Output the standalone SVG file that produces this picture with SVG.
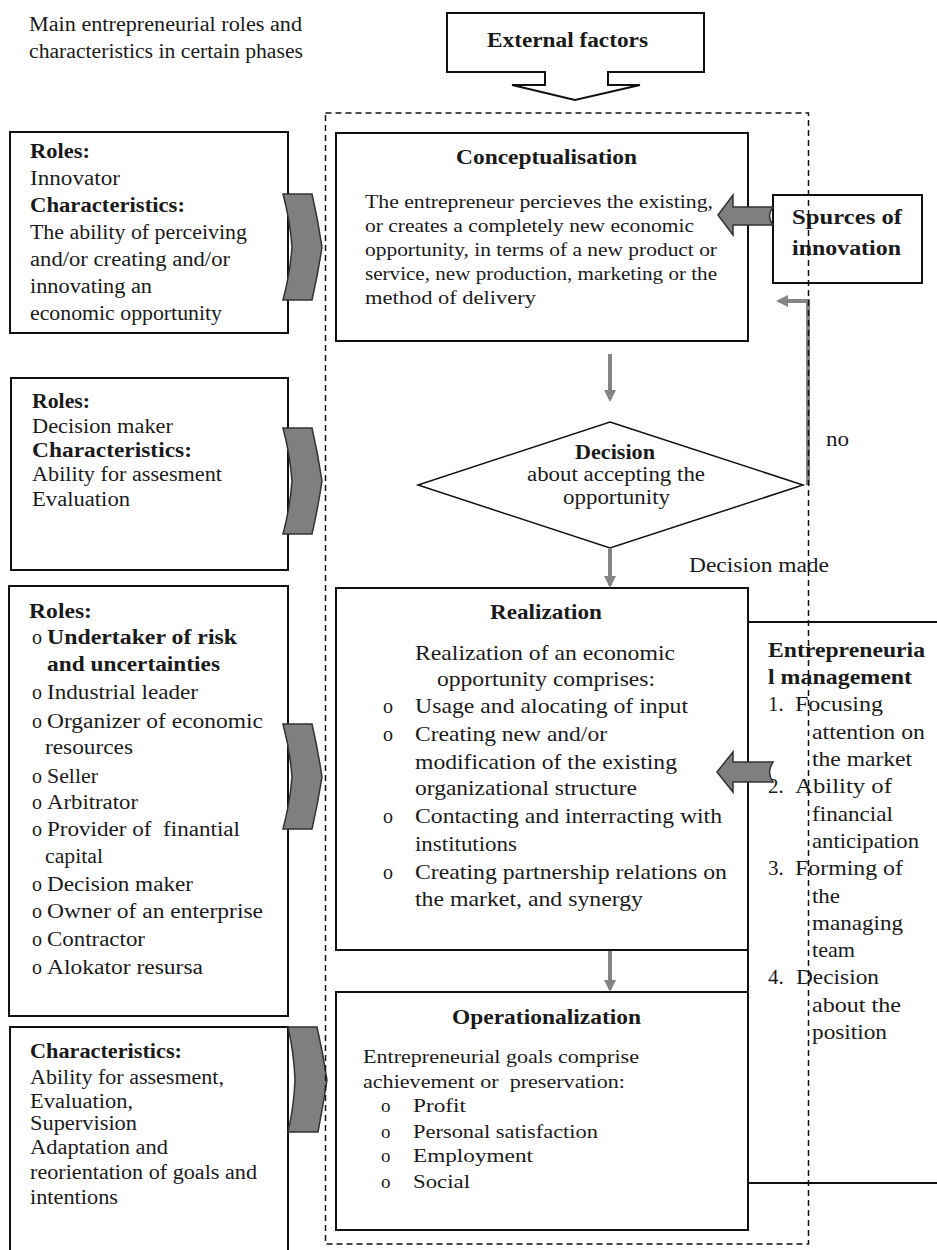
<svg xmlns="http://www.w3.org/2000/svg" width="937" height="1250" viewBox="0 0 937 1250">
<style>
text{font-family:"Liberation Serif","Times New Roman",serif;fill:#1a1a1a;font-size:20px}
.b{font-weight:bold}
.s19{font-size:19px}
.s21{font-size:21px}
.box{fill:#fff;stroke:#111;stroke-width:2}
.chev{fill:#7f7f7f;stroke:#333;stroke-width:1.5}
.blk{fill:#7f7f7f;stroke:#333;stroke-width:1.5}
.ga{stroke:#858585;stroke-width:4;fill:none}
.frame{fill:none;stroke:#111;stroke-width:1.5;stroke-dasharray:6 4}
.pre{white-space:pre}
</style>
<defs>
<marker id="gh" viewBox="0 0 12 12" refX="9" refY="6" markerWidth="12" markerHeight="12" markerUnits="userSpaceOnUse" orient="auto">
<path d="M0,0 L12,6 L0,12 Z" fill="#858585"/>
</marker>
</defs>
<rect width="937" height="1250" fill="#fff"/>

<g id="title">
<text x="29" y="31" textLength="273" lengthAdjust="spacingAndGlyphs">Main entrepreneurial roles and</text>
<text x="29" y="58" textLength="274" lengthAdjust="spacingAndGlyphs">characteristics in certain phases</text>
</g>

<g id="external-factors">
<path class="box" stroke-width="1.5" d="M447,13 H704 V72 H608 V85 H640 L575,100 L512,85 H545 V72 H447 Z"/>
<text class="b" x="487" y="47" textLength="161" lengthAdjust="spacingAndGlyphs">External factors</text>
</g>

<g id="roles-innovator">
<rect class="box" x="10" y="132" width="278" height="201"/>
<text class="b" x="30" y="158" textLength="60" lengthAdjust="spacingAndGlyphs">Roles:</text>
<text x="30" y="185" textLength="90" lengthAdjust="spacingAndGlyphs">Innovator</text>
<text class="b" x="30" y="212" textLength="155" lengthAdjust="spacingAndGlyphs">Characteristics:</text>
<text x="30" y="239" textLength="217" lengthAdjust="spacingAndGlyphs">The ability of perceiving</text>
<text x="30" y="266" textLength="200" lengthAdjust="spacingAndGlyphs">and/or creating and/or</text>
<text x="30" y="293" textLength="122" lengthAdjust="spacingAndGlyphs">innovating an</text>
<text x="30" y="320" textLength="192" lengthAdjust="spacingAndGlyphs">economic opportunity</text>
<path class="chev" d="M283,194 L312,194 Q318,220 322,247 Q318,274 312,300 L283,300 Q290,274 292,247 Q290,220 283,194 Z"/>
</g>

<g id="roles-decision-maker">
<rect class="box" x="11" y="378" width="277" height="192"/>
<text class="b" x="32" y="408" textLength="58" lengthAdjust="spacingAndGlyphs">Roles:</text>
<text x="32" y="433" textLength="141" lengthAdjust="spacingAndGlyphs">Decision maker</text>
<text class="b" x="32" y="457" textLength="160" lengthAdjust="spacingAndGlyphs">Characteristics:</text>
<text x="32" y="481" textLength="190" lengthAdjust="spacingAndGlyphs">Ability for assesment</text>
<text x="32" y="506" textLength="98" lengthAdjust="spacingAndGlyphs">Evaluation</text>
<path class="chev" d="M283,428 L312,428 Q318,454 322,481 Q318,508 312,534 L283,534 Q290,508 292,481 Q290,454 283,428 Z"/>
</g>

<g id="roles-realization">
<rect class="box" x="9" y="586" width="279" height="430"/>
<text class="b" x="29" y="618" textLength="63" lengthAdjust="spacingAndGlyphs">Roles:</text>
<text x="32" y="644">o</text><text class="b" x="47" y="644" textLength="190" lengthAdjust="spacingAndGlyphs">Undertaker of risk</text>
<text class="b" x="47" y="671" textLength="173" lengthAdjust="spacingAndGlyphs">and uncertainties</text>
<text x="32" y="699">o</text><text x="47" y="699" textLength="151" lengthAdjust="spacingAndGlyphs">Industrial leader</text>
<text x="32" y="728">o</text><text x="47" y="728" textLength="216" lengthAdjust="spacingAndGlyphs">Organizer of economic</text>
<text x="45" y="754" textLength="88" lengthAdjust="spacingAndGlyphs">resources</text>
<text x="32" y="783">o</text><text x="47" y="783" textLength="51" lengthAdjust="spacingAndGlyphs">Seller</text>
<text x="32" y="809">o</text><text x="47" y="809" textLength="91" lengthAdjust="spacingAndGlyphs">Arbitrator</text>
<text x="32" y="836">o</text><text class="pre" x="47" y="836" textLength="193" lengthAdjust="spacingAndGlyphs">Provider of  finantial</text>
<text x="45" y="863" textLength="58" lengthAdjust="spacingAndGlyphs">capital</text>
<text x="32" y="891">o</text><text x="47" y="891" textLength="146" lengthAdjust="spacingAndGlyphs">Decision maker</text>
<text x="32" y="918">o</text><text x="47" y="918" textLength="216" lengthAdjust="spacingAndGlyphs">Owner of an enterprise</text>
<text x="32" y="946">o</text><text x="47" y="946" textLength="98" lengthAdjust="spacingAndGlyphs">Contractor</text>
<text x="32" y="974">o</text><text x="47" y="974" textLength="156" lengthAdjust="spacingAndGlyphs">Alokator resursa</text>
<path class="chev" d="M283,724 L312,724 Q318,750 322,777 Q318,803 312,829 L283,829 Q290,803 292,777 Q290,750 283,724 Z"/>
</g>

<g id="characteristics-operational">
<rect class="box" x="10" y="1027" width="278" height="240"/>
<text class="b" x="30" y="1058" textLength="152" lengthAdjust="spacingAndGlyphs">Characteristics:</text>
<text x="30" y="1084" textLength="194" lengthAdjust="spacingAndGlyphs">Ability for assesment,</text>
<text x="30" y="1108" textLength="103" lengthAdjust="spacingAndGlyphs">Evaluation,</text>
<text x="30" y="1130" textLength="107" lengthAdjust="spacingAndGlyphs">Supervision</text>
<text x="30" y="1154" textLength="138" lengthAdjust="spacingAndGlyphs">Adaptation and</text>
<text x="30" y="1179" textLength="227" lengthAdjust="spacingAndGlyphs">reorientation of goals and</text>
<text x="30" y="1204" textLength="88" lengthAdjust="spacingAndGlyphs">intentions</text>
<path class="chev" d="M288,1027 L317,1027 Q323,1053 327,1080 Q323,1106 318,1132 L288,1132 Q294,1106 295,1080 Q294,1053 288,1027 Z"/>
</g>

<g id="conceptualisation">
<rect class="box" x="336" y="133" width="412" height="208"/>
<text class="b s21" x="456" y="164" textLength="181" lengthAdjust="spacingAndGlyphs">Conceptualisation</text>
<text class="s19" x="365" y="208" textLength="348" lengthAdjust="spacingAndGlyphs">The entrepreneur percieves the existing,</text>
<text class="s19" x="365" y="232" textLength="329" lengthAdjust="spacingAndGlyphs">or creates a completely new economic</text>
<text class="s19" x="365" y="256" textLength="352" lengthAdjust="spacingAndGlyphs">opportunity, in terms of a new product or</text>
<text class="s19" x="365" y="280" textLength="352" lengthAdjust="spacingAndGlyphs">service, new production, marketing or the</text>
<text class="s19" x="365" y="304" textLength="171" lengthAdjust="spacingAndGlyphs">method of delivery</text>
</g>

<g id="sources-of-innovation">
<rect class="box" x="773" y="195" width="149" height="88"/>
<text class="b" x="792" y="224" textLength="110" lengthAdjust="spacingAndGlyphs">Spurces of</text>
<text class="b" x="792" y="255" textLength="109" lengthAdjust="spacingAndGlyphs">innovation</text>
</g>

<g id="decision">
<path fill="#fff" stroke="#111" stroke-width="1.5" d="M610,422 L803,485 L610,548 L418,485 Z"/>
<text class="b" x="575" y="459" textLength="80" lengthAdjust="spacingAndGlyphs">Decision</text>
<text x="527" y="481" textLength="178" lengthAdjust="spacingAndGlyphs">about accepting the</text>
<text x="563" y="504" textLength="107" lengthAdjust="spacingAndGlyphs">opportunity</text>
</g>

<g id="realization">
<rect class="box" x="336" y="588" width="412" height="362"/>
<text class="b s21" x="490" y="619" textLength="112" lengthAdjust="spacingAndGlyphs">Realization</text>
<text class="s21" x="415" y="660" textLength="260" lengthAdjust="spacingAndGlyphs">Realization of an economic</text>
<text class="s21" x="437" y="686" textLength="218" lengthAdjust="spacingAndGlyphs">opportunity comprises:</text>
<text x="383" y="713">o</text><text class="s21" x="415" y="713" textLength="273" lengthAdjust="spacingAndGlyphs">Usage and alocating of input</text>
<text x="383" y="741">o</text><text class="s21" x="415" y="741" textLength="192" lengthAdjust="spacingAndGlyphs">Creating new and/or</text>
<text class="s21" x="415" y="769" textLength="262" lengthAdjust="spacingAndGlyphs">modification of the existing</text>
<text class="s21" x="415" y="795" textLength="222" lengthAdjust="spacingAndGlyphs">organizational structure</text>
<text x="383" y="823">o</text><text class="s21" x="415" y="823" textLength="307" lengthAdjust="spacingAndGlyphs">Contacting and interracting with</text>
<text class="s21" x="415" y="851" textLength="102" lengthAdjust="spacingAndGlyphs">institutions</text>
<text x="383" y="879">o</text><text class="s21" x="415" y="879" textLength="312" lengthAdjust="spacingAndGlyphs">Creating partnership relations on</text>
<text class="s21" x="415" y="906" textLength="228" lengthAdjust="spacingAndGlyphs">the market, and synergy</text>
</g>

<g id="entrepreneurial-management">
<path fill="none" stroke="#111" stroke-width="2" d="M937,622 H748 V1183 H937"/>
<text class="b s21" x="768" y="657" textLength="157" lengthAdjust="spacingAndGlyphs">Entrepreneuria</text>
<text class="b s21" x="768" y="684" textLength="144" lengthAdjust="spacingAndGlyphs">l management</text>
<text class="s21" x="768" y="711">1.</text><text class="s21" x="795" y="711" textLength="88" lengthAdjust="spacingAndGlyphs">Focusing</text>
<text class="s21" x="812" y="739" textLength="113" lengthAdjust="spacingAndGlyphs">attention on</text>
<text class="s21" x="812" y="766" textLength="100" lengthAdjust="spacingAndGlyphs">the market</text>
<text class="s21" x="768" y="793">2.</text><text class="s21" x="795" y="793" textLength="97" lengthAdjust="spacingAndGlyphs">Ability of</text>
<text class="s21" x="812" y="821" textLength="81" lengthAdjust="spacingAndGlyphs">financial</text>
<text class="s21" x="812" y="848" textLength="107" lengthAdjust="spacingAndGlyphs">anticipation</text>
<text class="s21" x="768" y="875">3.</text><text class="s21" x="795" y="875" textLength="108" lengthAdjust="spacingAndGlyphs">Forming of</text>
<text class="s21" x="812" y="903" textLength="28" lengthAdjust="spacingAndGlyphs">the</text>
<text class="s21" x="812" y="930" textLength="91" lengthAdjust="spacingAndGlyphs">managing</text>
<text class="s21" x="812" y="957" textLength="43" lengthAdjust="spacingAndGlyphs">team</text>
<text class="s21" x="768" y="984">4.</text><text class="s21" x="796" y="984" textLength="83" lengthAdjust="spacingAndGlyphs">Decision</text>
<text class="s21" x="812" y="1012" textLength="89" lengthAdjust="spacingAndGlyphs">about the</text>
<text class="s21" x="812" y="1039" textLength="75" lengthAdjust="spacingAndGlyphs">position</text>
</g>

<g id="operationalization">
<rect class="box" x="336" y="992" width="412" height="238"/>
<text class="b s21" x="452" y="1024" textLength="189" lengthAdjust="spacingAndGlyphs">Operationalization</text>
<text class="s19" x="363" y="1063" textLength="276" lengthAdjust="spacingAndGlyphs">Entrepreneurial goals comprise</text>
<text class="s19 pre" x="363" y="1088" textLength="262" lengthAdjust="spacingAndGlyphs">achievement or  preservation:</text>
<text class="s19" x="381" y="1112">o</text><text class="s19" x="413" y="1112" textLength="53" lengthAdjust="spacingAndGlyphs">Profit</text>
<text class="s19" x="381" y="1138">o</text><text class="s19" x="413" y="1138" textLength="185" lengthAdjust="spacingAndGlyphs">Personal satisfaction</text>
<text class="s19" x="381" y="1162">o</text><text class="s19" x="413" y="1162" textLength="120" lengthAdjust="spacingAndGlyphs">Employment</text>
<text class="s19" x="381" y="1188">o</text><text class="s19" x="413" y="1188" textLength="57" lengthAdjust="spacingAndGlyphs">Social</text>
</g>

<g id="connectors">
<path class="blk" d="M718,215 L733,195 L733,207 L773,207 Q766,216 773,225 L733,225 L733,235 Z"/>
<path class="blk" d="M717,772 L733,752 L733,762 L773,762 Q766,772 773,782 L733,782 L733,792 Z"/>
<line class="ga" x1="610" y1="354" x2="610" y2="399" marker-end="url(#gh)"/>
<line class="ga" x1="610" y1="549" x2="610" y2="585" marker-end="url(#gh)"/>
<line class="ga" x1="610" y1="951" x2="610" y2="989" marker-end="url(#gh)"/>
<path class="ga" d="M808,485 V301 H779" marker-end="url(#gh)"/>
<text x="826" y="446" textLength="23" lengthAdjust="spacingAndGlyphs">no</text>
<text x="689" y="572" textLength="140" lengthAdjust="spacingAndGlyphs">Decision made</text>
</g>

<g id="phase-frame">
<rect class="frame" x="325.5" y="113" width="483" height="1131"/>
</g>
</svg>
